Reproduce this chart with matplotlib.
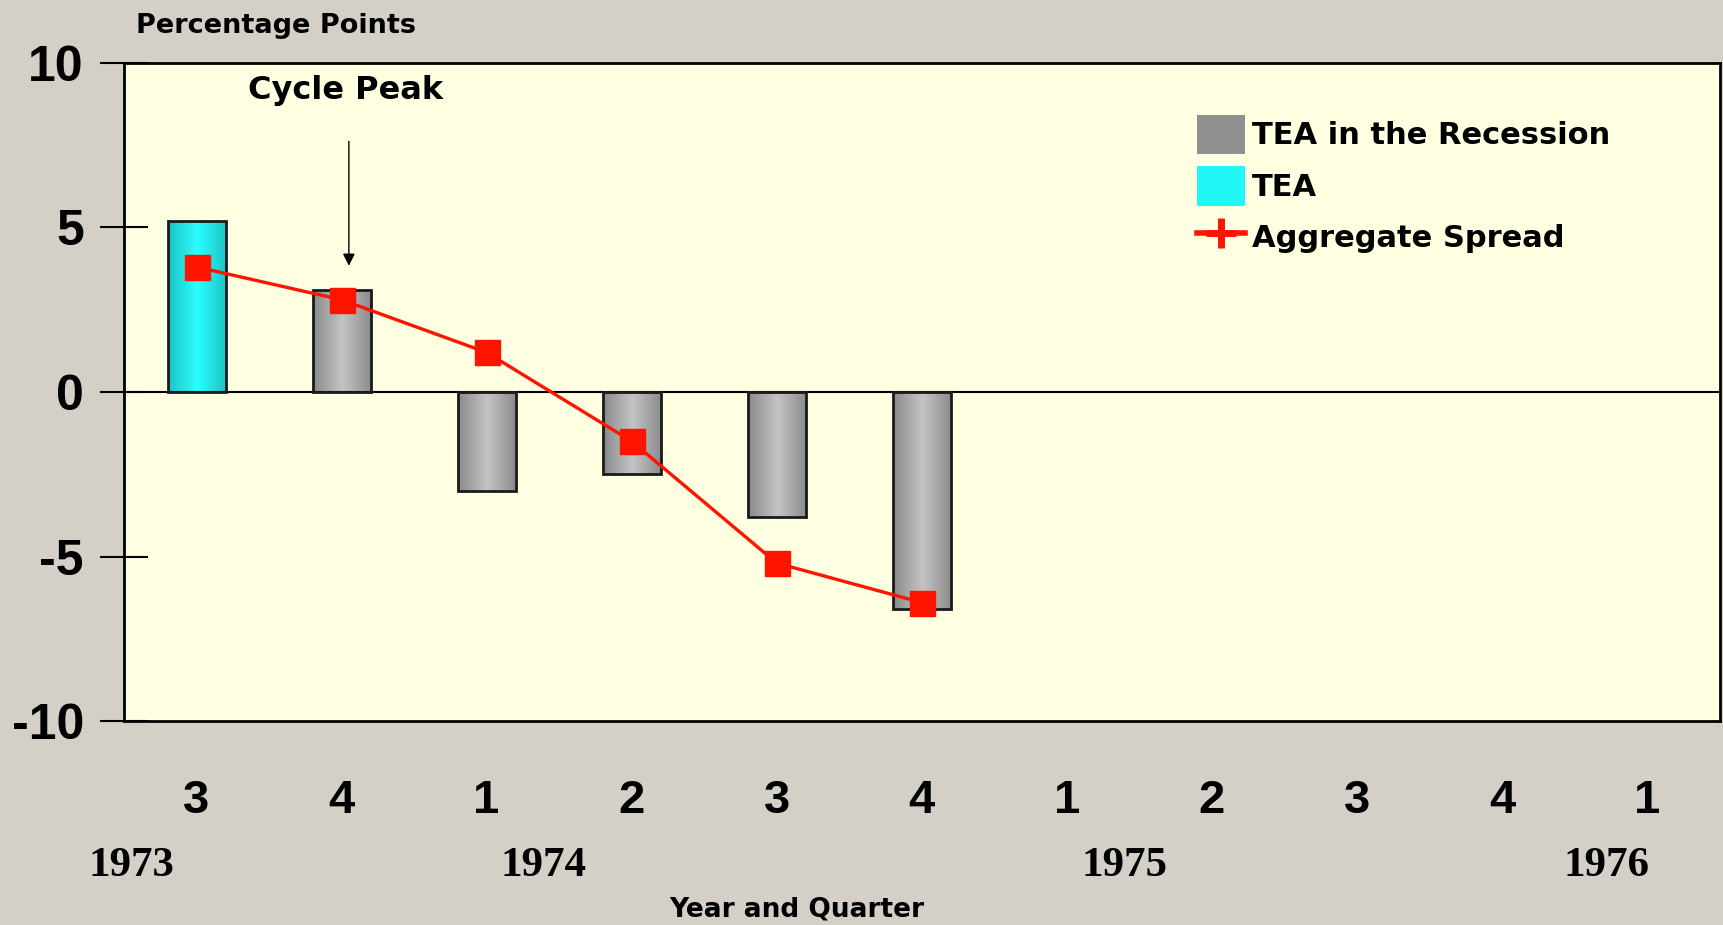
import numpy as np
import matplotlib.pyplot as plt
from matplotlib.patches import Patch
from matplotlib.lines import Line2D
from matplotlib.colors import LinearSegmentedColormap

# data
quarters = ['3', '4', '1', '2', '3', '4', '1', '2', '3', '4', '1']
years = ['1973', '1974', '1975', '1976']
year_pos = [-0.45, 2.39, 6.4, 9.72]
tea = [5.2, np.nan, np.nan, np.nan, np.nan, np.nan]
tea_recession = [np.nan, 3.1, -3.0, -2.5, -3.8, -6.6]
spread = [3.8, 2.8, 1.2, -1.5, -5.2, -6.4]

narrow = ['Liberation Sans Narrow', 'Liberation Sans', 'DejaVu Sans']

fig = plt.figure(figsize=(17.23, 9.25), dpi=100, facecolor='#D4D0C8')
ax = fig.add_axes([0.072, 0.2205, 0.926, 0.7115])
ax.set_facecolor('#FFFFE1')

x = np.arange(len(tea))
bw = 0.4


def gradient_bars(xs, vals, edge_c, mid_c, edgeline):
    cmap = LinearSegmentedColormap.from_list('g', [edge_c, mid_c, edge_c])
    grad = np.linspace(0, 1, 256).reshape(1, -1)
    for xi, v in zip(xs, vals):
        if np.isnan(v):
            continue
        bar = ax.bar(xi, v, width=bw, color='none', edgecolor=edgeline,
                     linewidth=2, zorder=3)[0]
        y0, y1 = sorted([0, v])
        im = ax.imshow(grad, cmap=cmap, aspect='auto', zorder=2,
                       extent=[xi - bw / 2, xi + bw / 2, y0, y1])
        im.set_clip_path(bar)


gradient_bars(x, tea, '#1CC4C4', '#2AFFFF', '#1A1A1A')
gradient_bars(x, tea_recession, '#8A8A8A', '#C4C4C4', '#1A1A1A')

ax.axhline(0, color='black', lw=1.5, zorder=2.5)
ax.plot(x, spread, color='#FF1400', lw=2.4, marker='s', markersize=18,
        zorder=5)

ax.set_xlim(-0.5, 10.5)
ax.set_ylim(-10, 10)
ax.set_yticks([-10, -5, 0, 5, 10])
ax.set_yticklabels(['-10', '-5', '0', '5', '10'], fontsize=36,
                   fontweight='bold', fontfamily=narrow)
ax.tick_params(axis='y', direction='inout', length=34, width=1.5, pad=12)
ax.set_xticks(range(len(quarters)))
ax.set_xticklabels(quarters, fontsize=34, fontweight='bold',
                   fontfamily=narrow)
ax.tick_params(axis='x', length=0, pad=42)
for s in ax.spines.values():
    s.set_linewidth(2)
    s.set_color('black')

for yl, xp in zip(years, year_pos):
    ax.text(xp, -14.4, yl, ha='center', va='center', fontsize=31,
            fontweight='bold', fontfamily='Liberation Serif', clip_on=False)

fig.text(0.4625, 0.017, 'Year and Quarter', ha='center', va='center',
         fontsize=19, fontweight='bold')
fig.text(0.079, 0.972, 'Percentage Points', ha='left', va='center',
         fontsize=19.5, fontweight='bold')

ax.text(1.03, 9.15, 'Cycle Peak', ha='center', va='center', fontsize=23,
        fontweight='bold')
ax.annotate('', xy=(1.05, 3.75), xytext=(1.05, 7.7),
            arrowprops=dict(arrowstyle='-|>', color='black', lw=1,
                            mutation_scale=18))

handles = [Patch(facecolor='#909090', edgecolor='none'),
           Patch(facecolor='#22F7F7', edgecolor='none'),
           Line2D([], [], color='#FF1400', lw=4, marker='+',
                  markersize=22, markeredgewidth=5)]
labels = ['TEA in the Recession', 'TEA', 'Aggregate Spread']
leg = ax.legend(handles, labels, loc='upper left',
                bbox_to_anchor=(0.655, 0.963), frameon=False,
                prop=dict(size=22, weight='bold'), handlelength=1.6,
                handleheight=1.6, handletextpad=0.2, labelspacing=0.4)

fig.savefig('out.png', dpi=100, facecolor=fig.get_facecolor())
